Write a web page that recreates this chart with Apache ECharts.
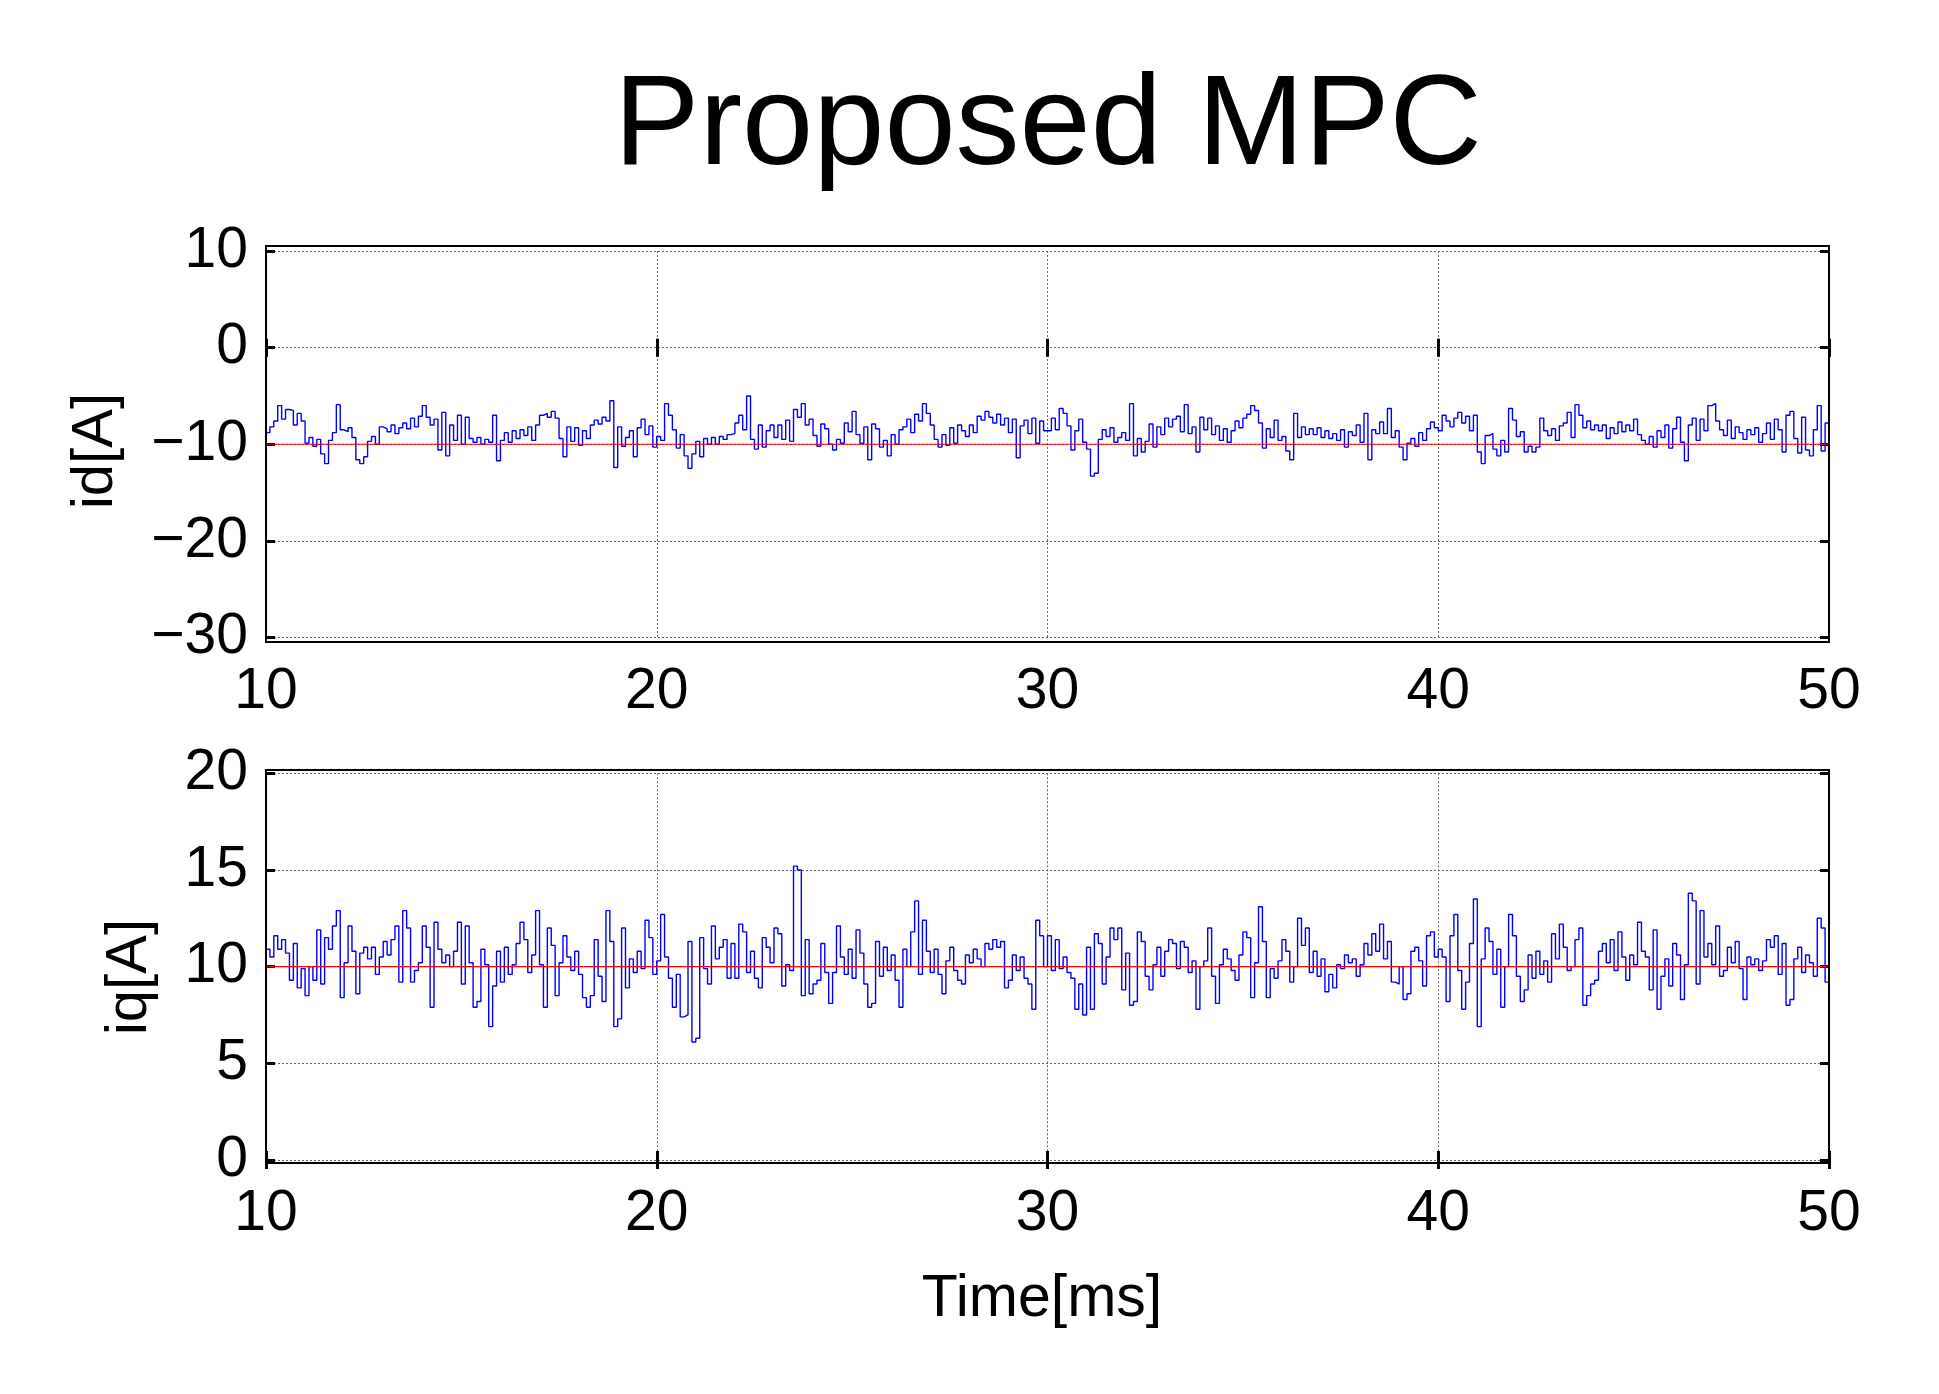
<!DOCTYPE html>
<html>
<head>
<meta charset="utf-8">
<title>Proposed MPC</title>
<script src="https://cdn.jsdelivr.net/npm/echarts@6/dist/echarts.min.js"></script>
<style>
  html, body { margin: 0; padding: 0; background: #fff; }
  #main { width: 1939px; height: 1394px; }
</style>
</head>
<body>
<div id="main"></div>
<script>
var tStart = 10;
var Ts = 0.1;
var xTicks = [10, 20, 30, 40, 50];

var idRef = -10;
var idVals = [
  -8.8, -8.2, -7.6, -6.0, -7.4, -6.4, -6.5, -8.0, -6.8, -7.6,
  -9.9, -9.3, -10.2, -9.5, -11.0, -12.0, -9.6, -8.8, -5.9, -8.5,
  -8.7, -8.3, -9.3, -11.6, -12.0, -11.3, -9.7, -9.2, -10.0, -8.2,
  -8.4, -8.7, -8.0, -8.9, -8.3, -7.8, -8.4, -7.3, -8.2, -7.1,
  -6.0, -7.2, -8.0, -7.4, -10.6, -6.7, -11.2, -8.0, -9.6, -7.0,
  -10.0, -7.2, -9.4, -9.8, -9.3, -10.0, -9.5, -9.8, -7.0, -11.7,
  -9.6, -8.8, -9.8, -8.6, -9.4, -8.5, -9.1, -8.2, -9.6, -8.0,
  -7.0, -6.8, -7.2, -6.6, -7.3, -9.4, -11.3, -8.2, -9.7, -8.3,
  -10.1, -8.6, -9.4, -8.0, -7.5, -7.9, -7.2, -7.6, -5.5, -12.4,
  -8.2, -10.2, -9.3, -8.6, -11.3, -8.3, -7.4, -9.0, -8.1, -10.3,
  // 20 ms
  -9.2, -9.6, -5.8, -7.0, -8.5, -10.4, -9.0, -11.2, -12.5, -11.0,
  -9.7, -11.3, -9.4, -10.0, -9.3, -10.0, -9.2, -9.5, -9.0, -8.9,
  -7.8, -7.0, -8.5, -5.0, -9.5, -10.5, -8.0, -10.3, -8.6, -8.0,
  -9.3, -8.0, -9.5, -7.5, -9.7, -6.4, -7.2, -5.8, -8.0, -7.4,
  -9.1, -10.2, -7.9, -8.4, -10.0, -10.6, -9.5, -9.9, -7.8, -8.7,
  -6.6, -9.0, -9.9, -8.2, -11.6, -7.9, -8.4, -10.3, -9.6, -11.2,
  -9.0, -10.0, -8.5, -8.2, -7.4, -8.8, -6.9, -7.6, -5.8, -6.8,
  -8.0, -9.5, -10.3, -9.0, -10.1, -8.3, -9.9, -8.0, -8.6, -9.2,
  -8.0, -8.8, -7.1, -7.5, -6.6, -7.2, -7.8, -6.9, -8.0, -7.3,
  -8.8, -7.4, -11.4, -8.1, -7.5, -8.9, -7.3, -9.9, -7.6, -8.6,
  // 30 ms
  -8.6, -7.3, -8.5, -6.3, -6.8, -8.1, -10.6, -8.6, -7.4, -9.8,
  -10.5, -13.3, -13.0, -9.5, -8.5, -9.2, -8.3, -9.8, -9.3, -8.8,
  -9.6, -5.8, -11.2, -9.4, -10.8, -9.7, -7.9, -10.3, -8.2, -9.0,
  -7.3, -8.2, -7.4, -7.1, -8.7, -5.9, -8.9, -8.2, -10.8, -7.2,
  -8.5, -7.3, -9.0, -8.1, -9.6, -8.4, -9.8, -8.6, -7.6, -8.3,
  -7.3, -6.9, -6.0, -6.5, -7.8, -10.4, -8.4, -9.3, -7.5, -9.6,
  -9.2, -10.7, -11.6, -6.8, -9.3, -8.2, -9.0, -8.4, -9.0, -8.3,
  -9.3, -8.6, -9.4, -8.9, -9.6, -8.5, -10.3, -8.7, -9.1, -8.0,
  -9.8, -6.8, -11.6, -8.5, -8.9, -7.7, -8.9, -6.3, -9.3, -8.6,
  -10.3, -11.6, -9.9, -9.4, -10.2, -8.8, -9.6, -8.4, -7.7, -8.3,
  // 40 ms
  -8.6, -7.0, -7.6, -8.2, -7.3, -6.7, -7.8, -7.1, -8.6, -7.0,
  -10.8, -12.0, -9.1, -8.9, -10.5, -11.2, -9.6, -10.8, -6.3, -7.5,
  -9.2, -8.7, -10.8, -10.2, -10.8, -10.3, -7.3, -8.6, -9.1, -8.4,
  -9.6, -8.1, -7.8, -6.7, -9.3, -5.9, -7.0, -8.3, -7.6, -8.5,
  -8.0, -8.6, -8.0, -9.4, -8.3, -8.9, -7.7, -8.7, -8.0, -8.6,
  -7.4, -9.0, -9.6, -10.0, -9.2, -10.3, -8.6, -9.3, -8.0, -10.4,
  -8.4, -7.2, -9.8, -11.7, -8.0, -7.3, -9.6, -7.4, -8.6, -6.0,
  -5.8, -7.6, -8.5, -9.1, -7.5, -9.4, -8.2, -8.8, -9.5, -8.5,
  -9.0, -8.3, -9.8, -8.9, -7.8, -9.5, -7.4, -8.5, -10.8, -7.0,
  -6.6, -9.4, -10.9, -7.2, -10.6, -11.2, -8.5, -6.0, -10.7, -7.8,
  -8.2
];

var iqRef = 10;
var iqVals = [
  10.9, 10.5, 11.6, 10.9, 11.4, 10.7, 9.3, 11.2, 8.9, 9.9,
  8.5, 10.0, 9.3, 11.9, 9.1, 11.5, 10.9, 12.1, 12.9, 8.4,
  10.2, 12.1, 10.8, 8.6, 10.7, 11.0, 10.4, 11.0, 9.6, 10.5,
  11.3, 10.6, 11.4, 12.1, 9.2, 12.9, 12.0, 9.2, 9.8, 10.2,
  12.1, 11.0, 7.9, 12.3, 10.9, 10.2, 10.6, 10.0, 10.8, 12.3,
  9.1, 12.1, 10.2, 7.9, 8.2, 10.9, 10.1, 6.9, 9.0, 10.8,
  9.2, 11.0, 9.6, 10.1, 11.2, 12.3, 11.4, 9.7, 10.6, 12.9,
  10.1, 7.9, 12.0, 11.1, 8.5, 10.2, 11.6, 10.5, 9.8, 10.8,
  9.6, 8.4, 7.9, 8.5, 11.4, 9.5, 8.2, 12.9, 11.3, 6.9,
  7.3, 12.0, 8.9, 10.4, 9.7, 10.8, 9.9, 12.4, 11.5, 9.6,
  // 20 ms
  10.3, 12.7, 10.5, 9.4, 7.9, 9.6, 7.4, 7.5, 11.3, 6.1,
  6.3, 11.5, 9.9, 9.1, 12.1, 10.4, 11.0, 11.4, 9.4, 11.2,
  9.4, 12.2, 11.8, 9.7, 10.8, 9.4, 8.9, 11.5, 11.0, 10.2,
  12.0, 11.7, 9.0, 10.1, 9.8, 15.2, 15.0, 8.5, 11.4, 8.6,
  9.1, 9.3, 11.2, 9.7, 8.1, 9.7, 12.1, 10.5, 9.6, 10.9,
  9.4, 11.9, 10.7, 9.1, 7.9, 8.1, 11.3, 9.5, 11.0, 9.8,
  10.6, 9.3, 7.9, 10.9, 10.0, 11.8, 13.4, 9.6, 12.4, 10.8,
  9.7, 10.9, 9.6, 8.6, 10.3, 11.0, 9.8, 9.3, 9.1, 10.6,
  10.2, 10.9, 10.4, 10.0, 11.2, 10.9, 11.4, 11.0, 11.3, 8.9,
  9.3, 10.6, 9.8, 10.5, 9.4, 9.1, 7.8, 12.4, 11.6, 10.0,
  // 30 ms
  11.6, 9.8, 11.4, 9.9, 10.5, 9.7, 9.4, 7.8, 9.1, 7.5,
  11.0, 7.8, 11.7, 11.2, 9.1, 10.5, 12.0, 11.4, 12.0, 8.8,
  10.7, 8.0, 8.2, 11.8, 11.3, 9.5, 8.8, 10.1, 11.0, 9.5,
  10.8, 11.4, 11.2, 9.9, 11.3, 11.0, 9.7, 10.3, 7.8, 10.0,
  10.3, 12.0, 9.5, 8.1, 10.1, 10.9, 10.4, 9.8, 9.3, 10.6,
  11.8, 11.5, 8.4, 10.2, 13.1, 11.3, 8.4, 9.9, 9.4, 10.3,
  11.4, 10.8, 9.2, 10.0, 12.5, 11.1, 12.0, 9.7, 10.8, 9.5,
  10.4, 8.7, 9.6, 8.9, 10.1, 9.9, 10.6, 10.2, 10.4, 9.5,
  10.1, 11.2, 10.6, 11.7, 10.8, 12.2, 10.4, 11.3, 9.2, 9.1,
  10.0, 8.3, 8.6, 10.8, 11.0, 10.3, 9.0, 11.6, 11.8, 10.5,
  // 40 ms
  10.9, 10.5, 8.2, 11.6, 12.7, 9.8, 7.8, 9.2, 11.2, 13.5,
  6.9, 10.4, 12.0, 11.3, 9.6, 10.9, 7.9, 10.0, 12.7, 11.6,
  9.5, 8.2, 8.8, 10.6, 9.4, 10.8, 9.6, 10.3, 9.2, 11.7,
  10.4, 12.2, 11.0, 9.8, 10.0, 11.4, 12.0, 8.0, 8.5, 9.1,
  9.3, 10.8, 11.2, 10.2, 11.4, 9.8, 11.8, 10.5, 9.3, 10.6,
  10.1, 12.3, 10.8, 10.5, 8.8, 11.9, 7.8, 9.5, 10.4, 9.0,
  11.2, 10.6, 8.3, 10.1, 13.8, 13.4, 9.1, 12.9, 10.5, 11.2,
  10.1, 12.1, 9.5, 9.8, 11.0, 10.2, 11.3, 9.9, 8.3, 10.5,
  10.1, 10.4, 9.8, 10.3, 11.4, 11.0, 11.6, 9.6, 11.2, 8.0,
  8.3, 10.4, 11.0, 9.7, 10.6, 10.2, 9.5, 12.5, 12.0, 9.2,
  7.9
];

var idTicks = [-30, -20, -10, 0, 10];
var iqTicks = [0, 5, 10, 15, 20];

function pairs(vals) {
  var out = [];
  for (var i = 0; i < vals.length; i++) {
    out.push([+(tStart + i * Ts).toFixed(1), vals[i]]);
  }
  return out;
}
function refLine(v) {
  return [[xTicks[0], v], [xTicks[xTicks.length - 1], v]];
}
function minus(v) {
  return String(v).replace('-', '\u2212');
}

var FONT = 'Liberation Sans, Arial, sans-serif';
var tickStyle = { show: true, inside: true, length: 9, lineStyle: { color: '#000', width: 3 } };
var gridLine = { show: true, lineStyle: { color: '#666', width: 1, type: [2, 2] } };

function xAx(gi) {
  return [{
    gridIndex: gi, type: 'value', min: xTicks[0], max: xTicks[4], interval: 10,
    axisLine: { show: false }, axisTick: tickStyle, splitLine: gridLine,
    axisLabel: { fontSize: 57, fontFamily: FONT, color: '#000', margin: 26 }
  }, {
    gridIndex: gi, type: 'value', position: 'top', min: xTicks[0], max: xTicks[4], interval: 10,
    axisLine: { show: false }, axisTick: tickStyle, splitLine: { show: false }, axisLabel: { show: false }
  }];
}
function yAx(gi, ticks) {
  var step = ticks[1] - ticks[0];
  return [{
    gridIndex: gi, type: 'value', min: ticks[0], max: ticks[ticks.length - 1], interval: step,
    axisLine: { show: false }, axisTick: tickStyle, splitLine: gridLine,
    axisLabel: { fontSize: 57, fontFamily: FONT, color: '#000', margin: 18, formatter: minus }
  }, {
    gridIndex: gi, type: 'value', position: 'right', min: ticks[0], max: ticks[ticks.length - 1], interval: step,
    axisLine: { show: false }, axisTick: tickStyle, splitLine: { show: false }, axisLabel: { show: false }
  }];
}

var chart = echarts.init(document.getElementById('main'), null, { renderer: 'canvas' });

chart.setOption({
  backgroundColor: '#fff',
  animation: false,
  grid: [
    { left: 266, top: 251, width: 1563, height: 386.5 },
    { left: 266, top: 773.3, width: 1563, height: 386.7 }
  ],
  xAxis: xAx(0).concat(xAx(1)),
  yAxis: yAx(0, idTicks).concat(yAx(1, iqTicks)),
  series: [
    { type: 'line', xAxisIndex: 0, yAxisIndex: 0, step: 'end', showSymbol: false, symbol: 'none',
      data: pairs(idVals), lineStyle: { color: '#0000ff', width: 1.4 }, z: 3 },
    { type: 'line', xAxisIndex: 0, yAxisIndex: 0, showSymbol: false, symbol: 'none',
      data: refLine(idRef), lineStyle: { color: '#ff0000', width: 1.2 }, z: 4 },
    { type: 'line', xAxisIndex: 2, yAxisIndex: 2, step: 'end', showSymbol: false, symbol: 'none',
      data: pairs(iqVals), lineStyle: { color: '#0000ff', width: 1.4 }, z: 3 },
    { type: 'line', xAxisIndex: 2, yAxisIndex: 2, showSymbol: false, symbol: 'none',
      data: refLine(iqRef), lineStyle: { color: '#ff0000', width: 1.2 }, z: 4 }
  ],
  graphic: [
    { type: 'rect', shape: { x: 266, y: 246, width: 1563, height: 396 },
      style: { fill: 'none', stroke: '#000', lineWidth: 2 }, z: 10 },
    { type: 'rect', shape: { x: 266, y: 770, width: 1563, height: 393 },
      style: { fill: 'none', stroke: '#000', lineWidth: 2 }, z: 10 },
    { type: 'text', x: 1048, y: 129,
      style: { text: 'Proposed MPC', font: '128px ' + FONT, fill: '#000', textAlign: 'center', textVerticalAlign: 'middle' } },
    { type: 'text', x: 96, y: 451, rotation: Math.PI / 2,
      style: { text: 'id[A]', font: '58px ' + FONT, fill: '#000', textAlign: 'center', textVerticalAlign: 'middle' } },
    { type: 'text', x: 130, y: 977, rotation: Math.PI / 2,
      style: { text: 'iq[A]', font: '58px ' + FONT, fill: '#000', textAlign: 'center', textVerticalAlign: 'middle' } },
    { type: 'text', x: 1042, y: 1300,
      style: { text: 'Time[ms]', font: '59px ' + FONT, fill: '#000', textAlign: 'center', textVerticalAlign: 'middle' } }
  ]
});
</script>
</body>
</html>
